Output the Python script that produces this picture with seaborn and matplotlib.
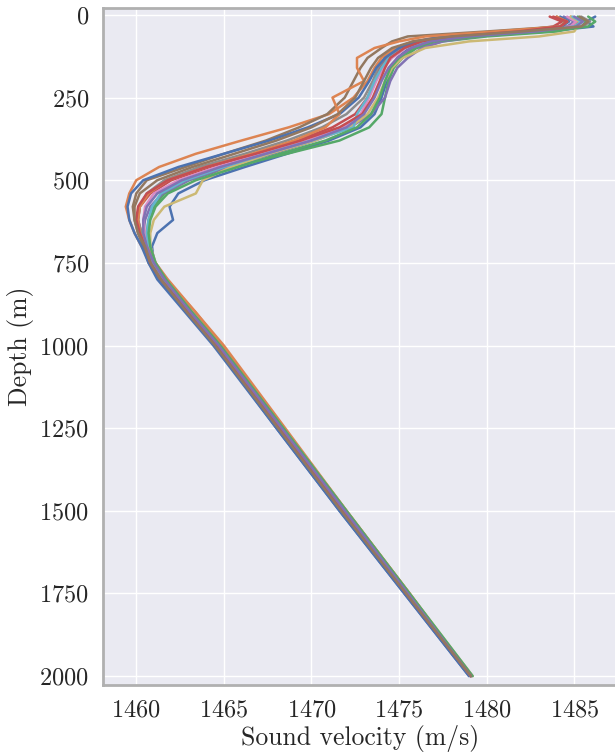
import matplotlib
matplotlib.use("Agg")
import matplotlib.pyplot as plt
import seaborn as sns
import pandas as pd

# Depth levels (m) shared by all profiles
depth = [5, 20, 35, 50, 65, 80, 100, 130, 160, 200, 250, 300, 340, 380, 420,
         460, 500, 540, 580, 620, 660, 700, 750, 800, 900, 1000, 1250, 1500, 1750, 2000]

# Sound velocity profiles (m/s)
svp_01 = [1486.2, 1485.7, 1486.1, 1483.5, 1479.0, 1476.8, 1475.6, 1474.9, 1474.6, 1474.3, 1474.0, 1473.6, 1472.8, 1471.0, 1468.6,
          1466.2, 1463.9, 1462.4, 1461.9, 1462.1, 1461.2, 1460.9, 1461.0, 1461.5, 1463.0, 1464.5, 1468.0, 1471.6, 1475.3, 1479.0]
svp_02 = [1484.8, 1485.3, 1484.6, 1481.0, 1477.5, 1475.8, 1474.8, 1474.0, 1473.6, 1473.2, 1472.4, 1471.0, 1468.7, 1466.0, 1463.4,
          1461.3, 1460.0, 1459.6, 1459.4, 1459.6, 1459.9, 1460.3, 1460.9, 1461.7, 1463.4, 1465.0, 1468.5, 1472.0, 1475.6, 1479.1]
svp_03 = [1485.2, 1485.7, 1485.4, 1484.0, 1480.0, 1477.5, 1476.0, 1475.2, 1474.7, 1474.4, 1474.2, 1474.0, 1473.3, 1471.6, 1468.6,
          1465.4, 1463.0, 1461.6, 1461.0, 1460.7, 1460.6, 1460.7, 1461.0, 1461.6, 1463.1, 1464.7, 1468.3, 1471.9, 1475.5, 1479.1]
svp_04 = [1483.6, 1484.3, 1483.8, 1481.5, 1478.0, 1476.2, 1475.2, 1474.3, 1473.9, 1473.6, 1473.2, 1472.5, 1471.2, 1469.2, 1466.8,
          1464.2, 1462.0, 1460.8, 1460.2, 1460.1, 1460.3, 1460.6, 1460.9, 1461.5, 1463.0, 1464.6, 1468.2, 1471.8, 1475.4, 1479.1]
svp_05 = [1484.4, 1485.0, 1484.6, 1483.0, 1479.5, 1477.5, 1476.3, 1475.5, 1474.9, 1474.5, 1474.2, 1473.4, 1472.2, 1470.2, 1467.8,
          1465.2, 1463.0, 1461.5, 1460.8, 1460.5, 1460.4, 1460.6, 1460.9, 1461.5, 1463.0, 1464.6, 1468.2, 1471.8, 1475.4, 1479.1]
svp_06 = [1484.0, 1484.5, 1484.2, 1480.0, 1475.5, 1474.6, 1474.0, 1473.2, 1472.8, 1472.4, 1471.9, 1470.9, 1469.3, 1467.4, 1465.0,
          1462.8, 1460.6, 1460.0, 1459.8, 1459.9, 1460.1, 1460.4, 1460.7, 1461.3, 1462.9, 1464.5, 1468.1, 1471.8, 1475.4, 1479.1]
svp_07 = [1484.6, 1485.1, 1484.8, 1482.0, 1478.5, 1476.4, 1475.4, 1474.6, 1474.1, 1473.7, 1473.3, 1472.8, 1471.8, 1469.8, 1467.2,
          1464.6, 1462.4, 1461.0, 1460.5, 1460.4, 1460.5, 1460.8, 1461.1, 1461.7, 1463.2, 1464.7, 1468.3, 1471.9, 1475.5, 1479.2]
svp_08 = [1485.4, 1485.9, 1485.5, 1482.5, 1478.5, 1476.2, 1475.0, 1474.2, 1473.8, 1473.5, 1473.0, 1472.0, 1470.6, 1468.6, 1466.2,
          1463.6, 1461.6, 1460.6, 1460.2, 1460.1, 1460.3, 1460.6, 1460.9, 1461.5, 1463.0, 1464.6, 1468.2, 1471.8, 1475.4, 1479.1]
svp_09 = [1484.8, 1485.3, 1485.2, 1485.0, 1483.0, 1479.0, 1476.5, 1475.2, 1474.6, 1474.2, 1473.8, 1473.2, 1472.2, 1470.2, 1467.6,
          1465.4, 1463.8, 1463.4, 1461.6, 1461.0, 1460.8, 1460.8, 1461.1, 1461.7, 1463.2, 1464.8, 1468.4, 1472.0, 1475.6, 1479.2]
svp_10 = [1484.9, 1485.4, 1485.0, 1483.0, 1478.5, 1476.4, 1475.3, 1474.4, 1474.0, 1473.6, 1473.2, 1472.6, 1472.4, 1470.0, 1467.4,
          1465.0, 1462.8, 1461.4, 1460.9, 1460.7, 1460.6, 1460.7, 1461.0, 1461.6, 1463.1, 1464.7, 1468.3, 1471.9, 1475.5, 1479.1]
svp_11 = [1484.2, 1484.7, 1484.3, 1481.5, 1477.5, 1476.0, 1475.0, 1474.2, 1473.7, 1473.3, 1472.7, 1471.6, 1469.8, 1467.6, 1465.0,
          1462.4, 1460.4, 1459.7, 1459.5, 1459.6, 1459.9, 1460.3, 1460.7, 1461.2, 1462.8, 1464.4, 1468.0, 1471.6, 1475.3, 1479.0]
svp_12 = [1484.0, 1484.6, 1484.2, 1480.5, 1476.5, 1475.0, 1473.6, 1472.6, 1472.6, 1473.0, 1471.2, 1471.6, 1470.8, 1469.0, 1466.6,
          1464.0, 1461.8, 1460.7, 1460.2, 1460.1, 1460.2, 1460.6, 1461.1, 1461.8, 1463.4, 1464.9, 1468.4, 1472.0, 1475.6, 1479.1]
svp_13 = [1485.8, 1486.2, 1485.8, 1483.5, 1479.5, 1477.0, 1475.8, 1475.0, 1474.5, 1474.2, 1473.9, 1473.4, 1472.6, 1470.8, 1468.2,
          1465.8, 1463.4, 1461.8, 1461.1, 1460.8, 1460.7, 1460.8, 1461.1, 1461.7, 1463.2, 1464.8, 1468.4, 1472.0, 1475.6, 1479.2]
svp_14 = [1483.8, 1484.6, 1484.2, 1481.8, 1478.2, 1476.3, 1475.3, 1474.5, 1474.2, 1473.9, 1473.5, 1472.9, 1471.6, 1469.4, 1466.8,
          1464.0, 1461.8, 1460.6, 1460.1, 1460.0, 1460.2, 1460.5, 1460.8, 1461.4, 1463.0, 1464.6, 1468.2, 1471.8, 1475.4, 1479.1]
svp_15 = [1485.0, 1485.5, 1485.1, 1482.8, 1479.0, 1476.8, 1475.7, 1474.9, 1474.4, 1474.0, 1473.6, 1473.0, 1472.0, 1470.0, 1467.4,
          1464.8, 1462.6, 1461.2, 1460.6, 1460.4, 1460.4, 1460.6, 1461.0, 1461.6, 1463.1, 1464.7, 1468.3, 1471.9, 1475.5, 1479.1]
svp_16 = [1485.3, 1485.8, 1485.4, 1482.0, 1478.0, 1475.8, 1474.6, 1473.8, 1473.4, 1473.0, 1472.5, 1471.5, 1470.0, 1468.0, 1465.6,
          1463.2, 1461.2, 1460.2, 1459.9, 1459.9, 1460.1, 1460.5, 1460.8, 1461.4, 1462.9, 1464.5, 1468.1, 1471.7, 1475.4, 1479.1]

profiles = [svp_01, svp_02, svp_03, svp_04, svp_05, svp_06, svp_07, svp_08,
            svp_09, svp_10, svp_11, svp_12, svp_13, svp_14, svp_15, svp_16]

x_ticks = [1460, 1465, 1470, 1475, 1480, 1485]
y_ticks = [0, 250, 500, 750, 1000, 1250, 1500, 1750, 2000]

rows = []
for i, prof in enumerate(profiles):
    for d, v in zip(depth, prof):
        rows.append({"profile": i, "depth": d, "velocity": v})
df = pd.DataFrame(rows)

sns.set_theme(style="darkgrid")
plt.rcParams["font.family"] = ["cmr10", "DejaVu Serif"]
plt.rcParams["mathtext.fontset"] = "cm"
plt.rcParams["axes.formatter.use_mathtext"] = True

fig = plt.figure(figsize=(6.15, 7.53), dpi=100)
ax = fig.add_axes([103 / 615, 68 / 753, 515 / 615, 677 / 753])

palette = [sns.color_palette("deep", 10)[i % 10] for i in range(len(profiles))]
sns.lineplot(data=df, x="velocity", y="depth", hue="profile", palette=palette,
             estimator=None, sort=False, orient="y", legend=False,
             linewidth=1.8, ax=ax)

ax.set_xlim(1458.1, 1487.5)
ax.set_ylim(2027, -21)
ax.set_xticks(x_ticks)
ax.set_yticks(y_ticks)
ax.tick_params(labelsize=17.5, pad=4)
ax.set_xlabel("Sound velocity (m/s)", fontsize=18.5, labelpad=3)
ax.set_ylabel("Depth (m)", fontsize=18.5, labelpad=4)

for side in ["left", "top", "bottom", "right"]:
    ax.spines[side].set_visible(True)
    ax.spines[side].set_color("#b0b0b0")
    ax.spines[side].set_linewidth(2.0)

fig.savefig("out.png", dpi=100)
